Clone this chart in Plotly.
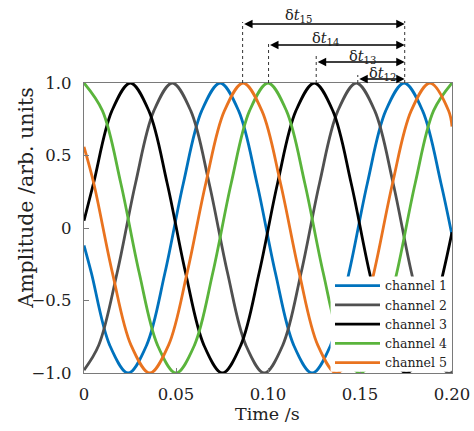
import plotly.graph_objects as go

# ---------------- data ----------------
ch1_t = [0, 0.004, 0.014, 0.024, 0.034, 0.044, 0.054, 0.064, 0.074, 0.084, 0.094,
         0.104, 0.114, 0.124, 0.134, 0.144, 0.154, 0.164, 0.174, 0.184, 0.194, 0.2]
ch1_y = [-0.12, -0.309, -0.809, -1, -0.809, -0.309, 0.309, 0.809, 1, 0.809, 0.309,
         -0.309, -0.809, -1, -0.809, -0.309, 0.309, 0.809, 1, 0.809, 0.309, -0.05]

ch2_t = [0, 0.008, 0.018, 0.028, 0.038, 0.048, 0.058, 0.068, 0.078, 0.088, 0.098,
         0.108, 0.118, 0.128, 0.138, 0.148, 0.158, 0.168, 0.178, 0.188, 0.198, 0.2]
ch2_y = [-0.98, -0.809, -0.309, 0.309, 0.809, 1, 0.809, 0.309, -0.309, -0.809, -1,
         -0.809, -0.309, 0.309, 0.809, 1, 0.809, 0.309, -0.309, -0.809, -1, -0.99]

ch3_t = [0, 0.0052, 0.0152, 0.0252, 0.0352, 0.0452, 0.0552, 0.0652, 0.0752, 0.0852, 0.0952,
         0.1052, 0.1152, 0.1252, 0.1352, 0.1452, 0.1552, 0.1652, 0.1752, 0.1852, 0.1952, 0.2]
ch3_y = [0.05, 0.309, 0.809, 1, 0.809, 0.309, -0.309, -0.809, -1, -0.809, -0.309,
         0.309, 0.809, 1, 0.809, 0.309, -0.309, -0.809, -1, -0.809, -0.309, -0.03]

ch4_t = [0, 0.01, 0.02, 0.03, 0.04, 0.05, 0.06, 0.07, 0.08, 0.09, 0.10,
         0.11, 0.12, 0.13, 0.14, 0.15, 0.16, 0.17, 0.18, 0.19, 0.20]
ch4_y = [1, 0.809, 0.309, -0.309, -0.809, -1, -0.809, -0.309, 0.309, 0.809, 1,
         0.809, 0.309, -0.309, -0.809, -1, -0.809, -0.309, 0.309, 0.809, 1]

ch5_t = [0, 0.0053, 0.01545, 0.0256, 0.03575, 0.0459, 0.05605, 0.0662, 0.07635, 0.0865, 0.09665,
         0.1068, 0.11695, 0.1271, 0.13725, 0.1474, 0.15755, 0.1677, 0.17785, 0.188, 0.19815, 0.2]
ch5_y = [0.56, 0.309, -0.309, -0.809, -1, -0.809, -0.309, 0.309, 0.809, 1, 0.809,
         0.309, -0.309, -0.809, -1, -0.809, -0.309, 0.309, 0.809, 1, 0.809, 0.70]

channel_names = ["channel 1", "channel 2", "channel 3", "channel 4", "channel 5"]

# peak times marked by the delay annotations (channel 5, 4, 3, 2 -> channel 1)
peak_ch5 = 0.0862
peak_ch4 = 0.1003
peak_ch3 = 0.1262
peak_ch2 = 0.1488
peak_ch1 = 0.1743
delay_labels = ["δ<i>t</i><sub>15</sub>", "δ<i>t</i><sub>14</sub>",
                "δ<i>t</i><sub>13</sub>", "δ<i>t</i><sub>12</sub>"]

x_ticks = [0, 0.05, 0.10, 0.15, 0.20]
x_ticktext = ["0", "0.05", "0.10", "0.15", "0.20"]
y_ticks = [-1.0, -0.5, 0, 0.5, 1.0]
y_ticktext = ["\u22121.0", "\u22120.5", "0", "0.5", "1.0"]

# ---------------- styling ----------------
colors = ["#0072BD", "#505050", "#000000", "#5AB43C", "#E9731F"]
FONT = "DejaVu Serif"
AXC = "#7a7a7a"

fig = go.Figure()
series = [(ch1_t, ch1_y), (ch2_t, ch2_y), (ch3_t, ch3_y), (ch4_t, ch4_y), (ch5_t, ch5_y)]
for (t, y), name, c in zip(series, channel_names, colors):
    fig.add_trace(go.Scatter(x=t, y=y, mode="lines", name=name,
                             line=dict(color=c, width=2.8, shape="spline", smoothing=1.0)))

fig.update_layout(
    width=474, height=431, autosize=False,
    margin=dict(l=84, r=22, t=83, b=58, autoexpand=False),
    plot_bgcolor="white", paper_bgcolor="white",
    font=dict(family=FONT, size=16, color="#222"),
    showlegend=True,
    legend=dict(x=1, xanchor="right", y=-0.017, yanchor="bottom",
                bgcolor="rgba(0,0,0,0)", borderwidth=0,
                font=dict(family=FONT, size=12.5, color="#222"),
                itemwidth=45, tracegroupgap=0),
)
fig.update_xaxes(range=[0, 0.2], tickvals=x_ticks, ticktext=x_ticktext,
                 showgrid=False, zeroline=False, showline=True, linecolor=AXC,
                 linewidth=1.3, mirror=True, ticks="inside", ticklen=5,
                 tickcolor=AXC, tickfont=dict(family=FONT, size=16.5),
                 ticklabelstandoff=6, automargin=False)
fig.update_yaxes(range=[-1, 1], tickvals=y_ticks, ticktext=y_ticktext,
                 showgrid=False, zeroline=False, showline=True, linecolor=AXC,
                 linewidth=1.3, mirror=True, ticks="inside", ticklen=5,
                 tickcolor=AXC, tickfont=dict(family=FONT, size=16.5),
                 ticklabelstandoff=8, automargin=False)

# white legend backdrop that hides the curves (kept just inside the axis box)
fig.add_shape(type="rect", xref="x", yref="y", x0=0.134, x1=0.1993, y0=-0.992, y1=-0.335,
              fillcolor="white", line=dict(width=0), layer="above")

# axis titles (as annotations for exact placement)
fig.add_annotation(text="Time /s", xref="paper", yref="paper", x=0.4986, y=-0.141,
                   showarrow=False, font=dict(family=FONT, size=17.5, color="#222"),
                   xanchor="center", yanchor="middle")
fig.add_annotation(text="Amplitude /arb. units", xref="paper", yref="paper",
                   x=-0.160, y=0.605, textangle=-90, showarrow=False,
                   font=dict(family=FONT, size=20.5, color="#222"),
                   xanchor="center", yanchor="middle")

# dotted vertical markers from peaks up to arrows
starts = [peak_ch5, peak_ch4, peak_ch3, peak_ch2]
arrow_levels = [1.2034, 1.131, 1.0724, 1.0138]
dot_tops = [1.2103, 1.138, 1.1034, 1.0276]
for xs, top in zip(starts + [peak_ch1], dot_tops + [1.2138]):
    fig.add_shape(type="line", xref="x", yref="paper", x0=xs, x1=xs, y0=1.0, y1=top,
                  line=dict(color="#333", width=1, dash="dot"))

label_x = [0.1164, 0.1311, 0.1514, 0.1623]
label_y = [1.231, 1.1517, 1.0897, 1.031]
for xs, lvl, lab, lx, ly in zip(starts, arrow_levels, delay_labels, label_x, label_y):
    fig.add_annotation(x=peak_ch1, y=lvl, xref="x", yref="paper",
                       ax=xs, ay=0, axref="x", ayref="pixel",
                       text="", showarrow=True, arrowhead=2, arrowside="end+start",
                       arrowsize=1.3, arrowwidth=1.3, arrowcolor="black",
                       standoff=0, startstandoff=0)
    fig.add_annotation(x=lx, y=ly, xref="x", yref="paper", text=lab, showarrow=False,
                       font=dict(family=FONT, size=14.5, color="#222"),
                       xanchor="center", yanchor="middle")

fig.write_html("out.html", config={"displayModeBar": False},
               post_script="document.body.style.margin='0px';document.body.style.overflow='hidden';")
